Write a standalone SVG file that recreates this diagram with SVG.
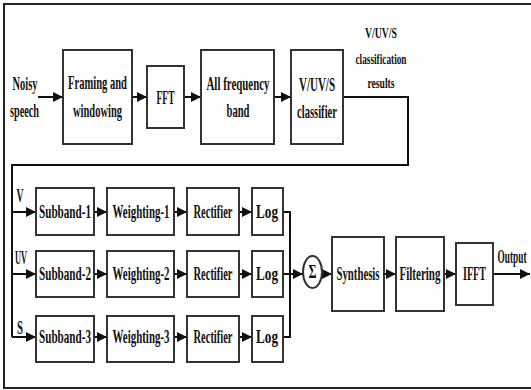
<svg xmlns="http://www.w3.org/2000/svg" width="531" height="390" viewBox="0 0 531 390">
<defs>
<marker id="ah" viewBox="0 0 10 10" refX="10" refY="5" markerWidth="10" markerHeight="10" markerUnits="userSpaceOnUse" orient="auto">
<path d="M0,0 L10,5 L0,10 Z" fill="#111"/>
</marker>
<style>
.box{fill:#fff;stroke:#333;stroke-width:2}
.ln{fill:none;stroke:#111;stroke-width:2}
.ar{fill:none;stroke:#111;stroke-width:2;marker-end:url(#ah)}
text{font-family:"Liberation Serif","Times New Roman",serif;font-weight:bold;font-size:19px;fill:#111;text-anchor:middle}
.sm{font-size:15px}
</style>
</defs>
<rect width="531" height="390" fill="#fff"/>
<path d="M531,4 H4 V388 H531" fill="none" stroke="#222" stroke-width="2"/>

<g id="connectors">
<line class="ar" x1="38" y1="97" x2="63" y2="97"/>
<line class="ar" x1="132" y1="97" x2="147" y2="97"/>
<line class="ar" x1="184" y1="97" x2="201" y2="97"/>
<line class="ar" x1="274" y1="97" x2="291" y2="97"/>
<path class="ln" d="M343,97 H408 V165 H12 V337"/>
<line class="ar" x1="12" y1="212" x2="36" y2="212"/>
<line class="ar" x1="12" y1="274" x2="36" y2="274"/>
<line class="ar" x1="12" y1="337" x2="36" y2="337"/>
<line class="ar" x1="94" y1="212" x2="107" y2="212"/>
<line class="ar" x1="94" y1="274" x2="107" y2="274"/>
<line class="ar" x1="94" y1="337" x2="107" y2="337"/>
<line class="ar" x1="174" y1="212" x2="187" y2="212"/>
<line class="ar" x1="174" y1="274" x2="187" y2="274"/>
<line class="ar" x1="174" y1="337" x2="187" y2="337"/>
<line class="ar" x1="239" y1="212" x2="252" y2="212"/>
<line class="ar" x1="239" y1="274" x2="252" y2="274"/>
<line class="ar" x1="239" y1="337" x2="252" y2="337"/>
<path class="ln" d="M283,212 H290 V337 H283"/>
<line class="ar" x1="283" y1="274" x2="303" y2="274"/>
<line class="ar" x1="322" y1="274" x2="332" y2="274"/>
<line class="ar" x1="384" y1="274" x2="396" y2="274"/>
<line class="ar" x1="444" y1="274" x2="456" y2="274"/>
<line class="ar" x1="493" y1="274" x2="530" y2="274"/>
</g>

<g id="input"><text x="25" y="90" textLength="25" lengthAdjust="spacingAndGlyphs">Noisy</text><text x="24.5" y="117" textLength="29" lengthAdjust="spacingAndGlyphs">speech</text></g>

<g id="framing"><rect class="box" x="63" y="50" width="69" height="94"/><text x="97.5" y="89" textLength="59" lengthAdjust="spacingAndGlyphs">Framing and</text><text x="97.5" y="117" textLength="49" lengthAdjust="spacingAndGlyphs">windowing</text></g>

<g id="fft"><rect class="box" x="147" y="66" width="37" height="62"/><text x="165.5" y="104" textLength="18" lengthAdjust="spacingAndGlyphs">FFT</text></g>

<g id="allband"><rect class="box" x="201" y="50" width="73" height="94"/><text x="238" y="90" textLength="63" lengthAdjust="spacingAndGlyphs">All frequency</text><text x="238" y="117" textLength="23" lengthAdjust="spacingAndGlyphs">band</text></g>

<g id="classifier"><rect class="box" x="291" y="50" width="52" height="94"/><text x="317" y="91" textLength="36" lengthAdjust="spacingAndGlyphs">V/UV/S</text><text x="317" y="118" textLength="40" lengthAdjust="spacingAndGlyphs">classifier</text></g>

<g id="results-label"><text class="sm" x="381" y="38" textLength="32" lengthAdjust="spacingAndGlyphs">V/UV/S</text><text class="sm" x="381" y="64" textLength="51" lengthAdjust="spacingAndGlyphs">classification</text><text class="sm" x="381" y="88" textLength="27" lengthAdjust="spacingAndGlyphs">results</text></g>

<g id="labels-vuvs"><text x="20" y="202" textLength="7" lengthAdjust="spacingAndGlyphs">V</text><text x="21" y="264" textLength="12" lengthAdjust="spacingAndGlyphs">UV</text><text x="20" y="334" textLength="6" lengthAdjust="spacingAndGlyphs">S</text></g>

<g id="subband1"><rect class="box" x="36" y="188" width="58" height="47"/><text x="65" y="218" textLength="52" lengthAdjust="spacingAndGlyphs">Subband-1</text></g>
<g id="weighting1"><rect class="box" x="107" y="188" width="67" height="47"/><text x="141" y="218" textLength="57" lengthAdjust="spacingAndGlyphs">Weighting-1</text></g>
<g id="rectifier1"><rect class="box" x="187" y="188" width="52" height="47"/><text x="213" y="218" textLength="39" lengthAdjust="spacingAndGlyphs">Rectifier</text></g>
<g id="log1"><rect class="box" x="252" y="188" width="31" height="47"/><text x="267" y="218" textLength="22" lengthAdjust="spacingAndGlyphs">Log</text></g>

<g id="subband2"><rect class="box" x="36" y="251" width="58" height="46"/><text x="65" y="280" textLength="52" lengthAdjust="spacingAndGlyphs">Subband-2</text></g>
<g id="weighting2"><rect class="box" x="107" y="251" width="67" height="46"/><text x="141" y="280" textLength="57" lengthAdjust="spacingAndGlyphs">Weighting-2</text></g>
<g id="rectifier2"><rect class="box" x="187" y="251" width="52" height="46"/><text x="213" y="280" textLength="39" lengthAdjust="spacingAndGlyphs">Rectifier</text></g>
<g id="log2"><rect class="box" x="252" y="251" width="31" height="46"/><text x="267" y="280" textLength="22" lengthAdjust="spacingAndGlyphs">Log</text></g>

<g id="subband3"><rect class="box" x="36" y="316" width="58" height="46"/><text x="65" y="343" textLength="52" lengthAdjust="spacingAndGlyphs">Subband-3</text></g>
<g id="weighting3"><rect class="box" x="107" y="316" width="67" height="46"/><text x="141" y="343" textLength="57" lengthAdjust="spacingAndGlyphs">Weighting-3</text></g>
<g id="rectifier3"><rect class="box" x="187" y="316" width="52" height="46"/><text x="213" y="343" textLength="39" lengthAdjust="spacingAndGlyphs">Rectifier</text></g>
<g id="log3"><rect class="box" x="252" y="316" width="31" height="46"/><text x="267" y="343" textLength="22" lengthAdjust="spacingAndGlyphs">Log</text></g>

<g id="sum"><ellipse class="box" cx="312.5" cy="272" rx="9.5" ry="16"/><text x="312.5" y="278" font-size="16" textLength="8" lengthAdjust="spacingAndGlyphs">Σ</text></g>

<g id="synthesis"><rect class="box" x="332" y="237" width="52" height="74"/><text x="358" y="280" textLength="43" lengthAdjust="spacingAndGlyphs">Synthesis</text></g>
<g id="filtering"><rect class="box" x="396" y="237" width="48" height="74"/><text x="420" y="280" textLength="41" lengthAdjust="spacingAndGlyphs">Filtering</text></g>
<g id="ifft"><rect class="box" x="456" y="243" width="37" height="62"/><text x="474.5" y="280" textLength="23" lengthAdjust="spacingAndGlyphs">IFFT</text></g>
<g id="output"><text x="512" y="263" font-size="16" textLength="29" lengthAdjust="spacingAndGlyphs">Output</text></g>
</svg>
